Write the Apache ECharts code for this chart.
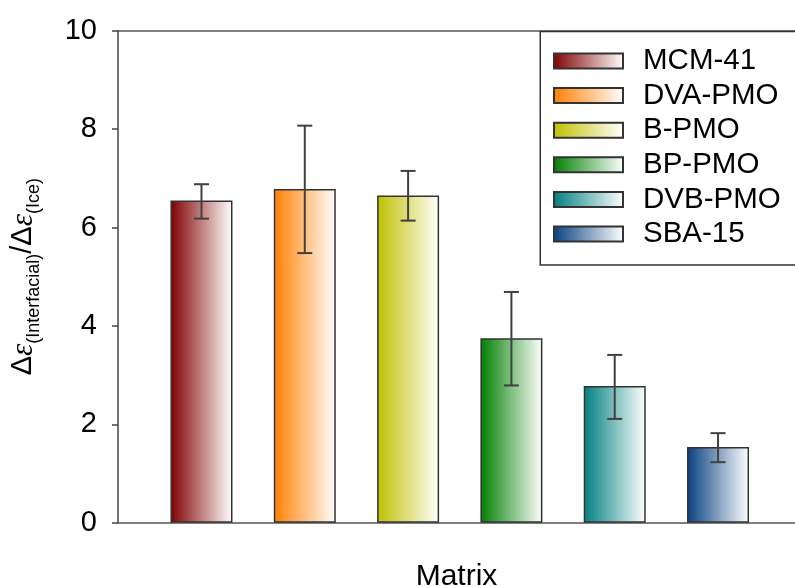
<!DOCTYPE html>
<html>
<head>
<meta charset="utf-8">
<script src="https://cdn.jsdelivr.net/npm/echarts@6/dist/echarts.min.js"></script>
<style>
html,body{margin:0;padding:0;background:#fff;}
#chart{width:795px;height:586px;}
</style>
</head>
<body>
<div id="chart"></div>
<script>
// ---- data ----
var categories = ['MCM-41', 'DVA-PMO', 'B-PMO', 'BP-PMO', 'DVB-PMO', 'SBA-15'];
var means      = [6.55, 6.78, 6.65, 3.75, 2.78, 1.54];
var errLow     = [6.18, 5.48, 6.14, 2.79, 2.11, 1.23];
var errHigh    = [6.88, 8.07, 7.15, 4.69, 3.41, 1.82];
var yTicks     = [0, 2, 4, 6, 8, 10];
var barColors  = ['#800000', '#FF7F00', '#C0C000', '#007F00', '#007F7F', '#08407F'];

var FONT = '"Liberation Sans", Arial, Helvetica, sans-serif';

function grad(c) {
  return {
    type: 'linear', x: 0, y: 0, x2: 1, y2: 0,
    colorStops: [{offset: 0, color: c}, {offset: 1, color: '#ffffff'}]
  };
}

var barSeries = categories.map(function (name, i) {
  return {
    name: name,
    type: 'bar',
    xAxisIndex: 0,
    yAxisIndex: 0,
    barWidth: 62,
    barGap: '-100%',
    data: [[i, means[i]]],
    itemStyle: {color: grad(barColors[i]), borderColor: '#333', borderWidth: 1.5},
    emphasis: {disabled: true},
    z: 2
  };
});

var errData = categories.map(function (name, i) { return [i, errLow[i], errHigh[i]]; });

var errSeries = {
  type: 'custom',
  xAxisIndex: 0,
  yAxisIndex: 0,
  data: errData,
  encode: {x: 0, y: [1, 2]},
  z: 5,
  renderItem: function (params, api) {
    var x = api.value(0);
    var lo = api.coord([x, api.value(1)]);
    var hi = api.coord([x, api.value(2)]);
    var hw = 7.5;
    var st = {stroke: '#404040', lineWidth: 2};
    return {
      type: 'group',
      children: [
        {type: 'line', shape: {x1: lo[0], y1: lo[1], x2: hi[0], y2: hi[1]}, style: st},
        {type: 'line', shape: {x1: lo[0] - hw, y1: lo[1], x2: lo[0] + hw, y2: lo[1]}, style: st},
        {type: 'line', shape: {x1: hi[0] - hw, y1: hi[1], x2: hi[0] + hw, y2: hi[1]}, style: st}
      ]
    };
  }
};

var chart = echarts.init(document.getElementById('chart'), null, {renderer: 'canvas'});

var option = {
  animation: false,
  backgroundColor: '#ffffff',
  textStyle: {fontFamily: FONT},
  grid: {left: 118, right: 0, top: 30.7, bottom: 63.3, containLabel: false, outerBoundsMode: 'none'},
  xAxis: [{
    type: 'value',
    min: -0.808,
    max: 5.745,
    position: 'bottom',
    name: 'Matrix',
    nameLocation: 'middle',
    nameGap: 39,
    nameTextStyle: {fontSize: 30, color: '#000', fontFamily: FONT},
    axisLine: {show: true, lineStyle: {color: '#555', width: 1.5}},
    axisTick: {show: false},
    axisLabel: {show: false},
    splitLine: {show: false}
  }, {
    type: 'value',
    min: -0.808,
    max: 5.745,
    position: 'top',
    axisLine: {show: true, onZero: false, lineStyle: {color: '#555', width: 1.5}},
    axisTick: {show: false},
    axisLabel: {show: false},
    splitLine: {show: false}
  }],
  yAxis: {
    type: 'value',
    min: yTicks[0],
    max: yTicks[yTicks.length - 1],
    interval: 2,
    name: '{d|Δ}{e|ε}{s|(Interfacial)}{d|/Δ}{e|ε}{s|(Ice)}',
    nameLocation: 'middle',
    nameRotate: 90,
    nameGap: 81,
    nameTextStyle: {
      color: '#000',
      rich: {
        d: {fontSize: 29, lineHeight: 29, verticalAlign: 'top', fontFamily: FONT, color: '#000'},
        e: {fontSize: 31, lineHeight: 29, verticalAlign: 'top', fontStyle: 'italic', fontFamily: '"Liberation Serif", "DejaVu Serif", serif', color: '#000'},
        s: {fontSize: 18, lineHeight: 18, verticalAlign: 'top', padding: [17, 0, 0, 0], fontFamily: FONT, color: '#000'}
      }
    },
    axisLine: {show: true, onZero: false, lineStyle: {color: '#444', width: 1.5}},
    axisTick: {show: true, inside: false, length: 6, lineStyle: {color: '#444', width: 1.5}},
    axisLabel: {fontSize: 29, color: '#000', margin: 21, fontFamily: FONT},
    splitLine: {show: false}
  },
  legend: {
    orient: 'vertical',
    left: 553,
    top: 46,
    padding: 0,
    itemWidth: 69,
    itemHeight: 15,
    itemGap: 4.6,
    selectedMode: false,
    icon: 'rect',
    data: categories,
    textStyle: {fontSize: 29.5, lineHeight: 28, color: '#000', fontFamily: FONT, padding: [0, 0, 0, 15]},
    z: 10
  },
  graphic: [{
    type: 'rect',
    left: 539.5,
    top: 30.7,
    shape: {width: 270, height: 233.5},
    style: {fill: '#fff', stroke: '#333', lineWidth: 1.5},
    z: 8
  }],
  series: barSeries.concat([errSeries])
};

chart.setOption(option);
</script>
</body>
</html>
